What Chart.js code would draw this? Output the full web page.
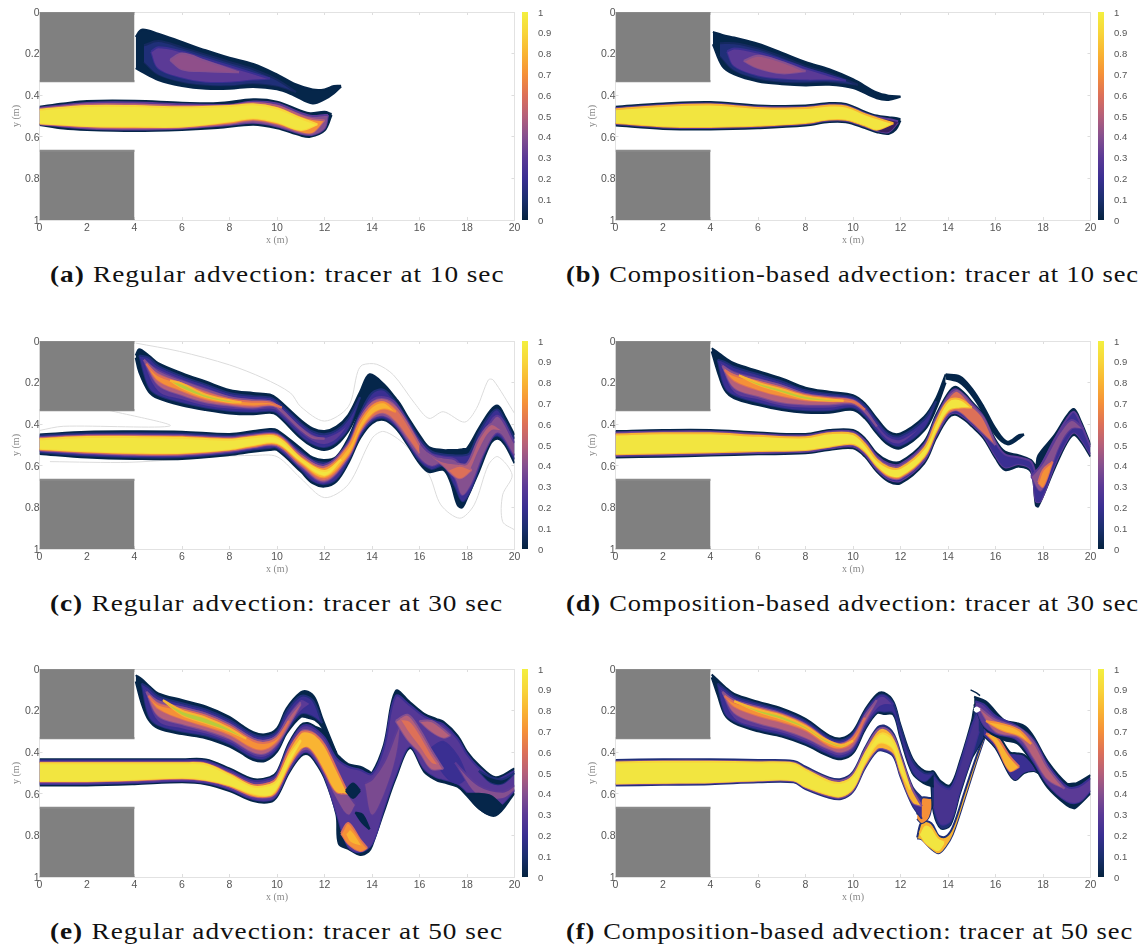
<!DOCTYPE html>
<html>
<head>
<meta charset="utf-8">
<title>Tracer advection</title>
<script src="https://cdn.jsdelivr.net/npm/chart.js@4/dist/chart.umd.min.js"></script>
<style>
  html, body { margin: 0; padding: 0; background: #fff; }
  #page { position: relative; width: 1146px; height: 949px; overflow: hidden; }
  canvas { position: absolute; filter: blur(0.5px); }
  .cap { position: absolute; font-family: "Liberation Serif", serif; font-size: 23px; color: #111; white-space: nowrap; letter-spacing: 0.8px; transform-origin: left top; }
  .cap b { margin-right: 7px; }
</style>
</head>
<body>
<div id="page"></div>
<script>
// axis ticks
const xTicks = [0, 2, 4, 6, 8, 10, 12, 14, 16, 18, 20];
const yTicks = [0, 0.2, 0.4, 0.6, 0.8, 1];
const barTicks = [0, 0.1, 0.2, 0.3, 0.4, 0.5, 0.6, 0.7, 0.8, 0.9, 1];
const barColors = ['#04233f', '#1b2f6e', '#3a2f92', '#5b3a96', '#85508f', '#b5607a', '#dd7058', '#f59038', '#f9b432', '#f8d53a', '#f3f03f'];

// grey blocks
const blockX = [0, 4];
const blockUpTop = [0, 0], blockUpBot = [0.333, 0.333];
const blockLowTop = [0.667, 0.667], blockLowBot = [1, 1];

// (a) 10 sec regular
const aUpX = [4.05, 4.3, 5, 6, 7, 8, 9, 10, 10.7, 11.5, 12, 12.4, 12.7];
const aUpTop = [0.12, 0.085, 0.104, 0.144, 0.184, 0.22, 0.25, 0.3, 0.343, 0.372, 0.372, 0.356, 0.355];
const aUpBot = [0.27, 0.287, 0.327, 0.356, 0.369, 0.369, 0.36, 0.372, 0.4, 0.44, 0.42, 0.39, 0.358];
const aUp1X = [4.4, 5, 6, 7, 8, 9, 10, 10.8];
const aUp1Top = [0.16, 0.14, 0.17, 0.205, 0.24, 0.275, 0.325, 0.385];
const aUp1Bot = [0.24, 0.3, 0.335, 0.35, 0.352, 0.342, 0.355, 0.385];
const aUp2X = [4.7, 5, 6, 7, 8, 9, 9.7];
const aUp2Top = [0.19, 0.17, 0.19, 0.225, 0.26, 0.295, 0.32];
const aUp2Bot = [0.19, 0.27, 0.315, 0.335, 0.335, 0.325, 0.32];
const aUp3X = [5.5, 6, 7, 8.4];
const aUp3Top = [0.23, 0.2, 0.235, 0.29];
const aUp3Bot = [0.23, 0.275, 0.285, 0.29];
const aJetX = [0, 1, 2, 4, 6, 7.5, 9, 10, 11, 11.4, 12, 12.3];
const aJetTop = [0.455, 0.44, 0.428, 0.427, 0.436, 0.438, 0.42, 0.431, 0.474, 0.487, 0.48, 0.49];
const aJetBot = [0.543, 0.56, 0.567, 0.572, 0.567, 0.558, 0.542, 0.559, 0.594, 0.6, 0.57, 0.495];
const aJet1X = [0, 2, 4, 6, 8, 9, 10, 11, 11.5, 12, 12.15];
const aJet1Top = [0.46, 0.437, 0.435, 0.444, 0.446, 0.43, 0.44, 0.485, 0.5, 0.495, 0.495];
const aJet1Bot = [0.54, 0.56, 0.565, 0.56, 0.543, 0.533, 0.55, 0.585, 0.59, 0.56, 0.495];
const aJet2X = [0, 2, 4, 6, 8, 9, 10, 11, 11.5, 12];
const aJet2Top = [0.466, 0.445, 0.445, 0.452, 0.449, 0.438, 0.452, 0.498, 0.515, 0.52];
const aJet2Bot = [0.538, 0.553, 0.558, 0.555, 0.536, 0.52, 0.54, 0.577, 0.58, 0.52];
const aJet3X = [0, 2, 4, 6, 8, 9, 10, 11, 11.7];
const aJet3Top = [0.47, 0.452, 0.452, 0.458, 0.452, 0.444, 0.463, 0.511, 0.54];
const aJet3Bot = [0.535, 0.548, 0.551, 0.551, 0.527, 0.511, 0.53, 0.567, 0.54];

// (b) 10 sec composition
const bUpX = [4.1, 4.5, 5, 6, 7, 8, 9, 10, 11, 11.5, 12];
const bUpTop = [0.096, 0.11, 0.123, 0.152, 0.195, 0.24, 0.275, 0.323, 0.387, 0.402, 0.406];
const bUpBot = [0.155, 0.26, 0.3, 0.334, 0.347, 0.353, 0.35, 0.366, 0.415, 0.423, 0.408];
const bUp1X = [4.4, 5, 6, 7, 8, 9, 10.2];
const bUp1Top = [0.15, 0.15, 0.175, 0.215, 0.26, 0.295, 0.35];
const bUp1Bot = [0.21, 0.28, 0.32, 0.335, 0.338, 0.335, 0.35];
const bUp2X = [4.7, 5, 6, 7, 8, 9, 9.7];
const bUp2Top = [0.19, 0.175, 0.195, 0.23, 0.27, 0.305, 0.33];
const bUp2Bot = [0.19, 0.26, 0.305, 0.32, 0.325, 0.325, 0.33];
const bUp3X = [5.4, 6, 7, 8];
const bUp3Top = [0.235, 0.21, 0.24, 0.285];
const bUp3Bot = [0.235, 0.27, 0.295, 0.285];
const bJetX = [0, 2, 4, 6, 8, 9, 9.7, 10.5, 11, 11.5, 11.8, 12];
const bJetTop = [0.455, 0.44, 0.433, 0.449, 0.45, 0.438, 0.442, 0.479, 0.498, 0.506, 0.51, 0.515];
const bJetBot = [0.546, 0.562, 0.565, 0.559, 0.546, 0.529, 0.53, 0.558, 0.578, 0.586, 0.565, 0.522];
const bJet1X = [0, 2, 4, 6, 8, 9, 9.7, 10.5, 11, 11.5, 11.9];
const bJet1Top = [0.462, 0.447, 0.44, 0.456, 0.457, 0.445, 0.449, 0.486, 0.505, 0.514, 0.525];
const bJet1Bot = [0.539, 0.555, 0.558, 0.552, 0.539, 0.522, 0.523, 0.551, 0.571, 0.577, 0.53];
const bJet2X = [0, 2, 4, 6, 8, 9, 9.7, 10.5, 11, 11.7];
const bJet2Top = [0.467, 0.452, 0.445, 0.461, 0.462, 0.45, 0.454, 0.491, 0.51, 0.535];
const bJet2Bot = [0.534, 0.55, 0.553, 0.547, 0.534, 0.517, 0.518, 0.546, 0.566, 0.535];

// (c) 30 sec regular
const cUpX = [4.05, 4.2, 4.6, 5, 6, 7, 8, 9, 9.7, 10, 11, 11.5, 12, 12.5, 13, 13.5, 13.9, 14.5, 15];
const cUpTop = [0.07, 0.04, 0.07, 0.107, 0.155, 0.195, 0.235, 0.25, 0.257, 0.276, 0.38, 0.42, 0.433, 0.412, 0.356, 0.244, 0.16, 0.208, 0.276];
const cUpBot = [0.08, 0.15, 0.243, 0.276, 0.31, 0.332, 0.348, 0.352, 0.345, 0.356, 0.468, 0.508, 0.524, 0.5, 0.433, 0.332, 0.3, 0.27, 0.276];
const cUp1X = [4.2, 4.6, 5, 6, 7, 8, 9, 9.7, 10, 11, 11.5, 12, 12.5, 13, 13.5];
const cUp1Top = [0.07, 0.08, 0.12, 0.17, 0.21, 0.25, 0.265, 0.272, 0.29, 0.395, 0.435, 0.448, 0.43, 0.375, 0.27];
const cUp1Bot = [0.07, 0.22, 0.26, 0.295, 0.32, 0.335, 0.34, 0.335, 0.345, 0.455, 0.495, 0.51, 0.485, 0.42, 0.27];
const cUp2X = [4.3, 5, 6, 7, 8, 9, 9.7, 10, 11, 11.5, 12, 12.5, 13];
const cUp2Top = [0.08, 0.13, 0.18, 0.22, 0.26, 0.275, 0.28, 0.3, 0.405, 0.445, 0.46, 0.44, 0.4];
const cUp2Bot = [0.08, 0.24, 0.28, 0.31, 0.325, 0.33, 0.325, 0.335, 0.44, 0.48, 0.495, 0.47, 0.4];
const cUp3X = [4.4, 5, 6, 7, 8, 9, 9.7, 10, 11, 11.5, 12];
const cUp3Top = [0.09, 0.15, 0.195, 0.235, 0.27, 0.285, 0.29, 0.31, 0.42, 0.46, 0.47];
const cUp3Bot = [0.09, 0.21, 0.26, 0.295, 0.31, 0.32, 0.31, 0.32, 0.425, 0.465, 0.47];
const cUp4X = [4.5, 5, 6, 7, 8, 9, 9.7, 10.2];
const cUp4Top = [0.11, 0.165, 0.205, 0.25, 0.28, 0.292, 0.295, 0.32];
const cUp4Bot = [0.11, 0.19, 0.24, 0.28, 0.3, 0.31, 0.305, 0.32];
const cUp5X = [5.5, 6, 7, 8, 8.5];
const cUp5Top = [0.19, 0.205, 0.258, 0.285, 0.295];
const cUp5Bot = [0.19, 0.225, 0.27, 0.293, 0.295];
const cJetX = [0, 2, 4, 6, 8, 9, 9.7, 10, 11, 11.5, 12, 12.5, 13, 13.5, 14, 14.5, 15, 15.5, 16, 16.4, 17, 17.3, 17.6, 17.8, 18, 18.5, 19, 19.3, 19.6, 20];
const cJetTop = [0.449, 0.436, 0.434, 0.436, 0.447, 0.433, 0.423, 0.428, 0.516, 0.56, 0.572, 0.556, 0.468, 0.34, 0.27, 0.25, 0.276, 0.364, 0.452, 0.51, 0.524, 0.524, 0.524, 0.52, 0.516, 0.42, 0.332, 0.311, 0.364, 0.452];
const cJetBot = [0.543, 0.56, 0.567, 0.567, 0.548, 0.532, 0.524, 0.524, 0.628, 0.684, 0.7, 0.676, 0.588, 0.468, 0.396, 0.38, 0.42, 0.5, 0.588, 0.63, 0.62, 0.676, 0.788, 0.8, 0.756, 0.628, 0.492, 0.47, 0.5, 0.588];
const cJet1X = [0, 2, 4, 6, 8, 9, 9.7, 10, 11, 11.5, 12, 12.5, 13, 13.5, 14, 14.5, 15, 15.5, 16, 16.5, 17, 17.5, 17.8, 18.1, 18.5, 19, 19.3, 19.6, 20];
const cJet1Top = [0.455, 0.445, 0.443, 0.445, 0.455, 0.443, 0.433, 0.44, 0.53, 0.573, 0.585, 0.568, 0.48, 0.35, 0.25, 0.235, 0.295, 0.38, 0.47, 0.53, 0.545, 0.55, 0.55, 0.54, 0.44, 0.35, 0.33, 0.385, 0.47];
const cJet1Bot = [0.535, 0.55, 0.558, 0.558, 0.54, 0.522, 0.514, 0.514, 0.615, 0.672, 0.688, 0.664, 0.575, 0.455, 0.385, 0.37, 0.41, 0.49, 0.575, 0.615, 0.6, 0.7, 0.77, 0.73, 0.61, 0.475, 0.455, 0.485, 0.57];
const cJet2X = [0, 2, 4, 6, 8, 9, 10, 11, 12, 13, 13.5, 14, 14.5, 15, 16, 16.5, 17, 17.5, 17.8, 18.2, 18.7, 19.3, 20];
const cJet2Top = [0.462, 0.452, 0.45, 0.452, 0.462, 0.45, 0.447, 0.54, 0.595, 0.49, 0.36, 0.285, 0.27, 0.3, 0.485, 0.545, 0.56, 0.57, 0.6, 0.58, 0.45, 0.36, 0.49];
const cJet2Bot = [0.528, 0.542, 0.55, 0.55, 0.532, 0.515, 0.507, 0.605, 0.678, 0.565, 0.445, 0.375, 0.36, 0.4, 0.56, 0.6, 0.585, 0.66, 0.74, 0.68, 0.54, 0.44, 0.55];
const cJet3X = [0, 2, 4, 6, 8, 9, 10, 11, 12, 13, 13.5, 14, 14.5, 15, 15.5, 16];
const cJet3Top = [0.466, 0.456, 0.456, 0.458, 0.468, 0.455, 0.452, 0.55, 0.605, 0.5, 0.375, 0.3, 0.285, 0.32, 0.4, 0.5];
const cJet3Bot = [0.524, 0.537, 0.545, 0.545, 0.527, 0.51, 0.5, 0.595, 0.668, 0.555, 0.435, 0.365, 0.345, 0.385, 0.46, 0.54];
const cBlobX = [16.3, 17, 17.6, 18, 18.5, 19, 19.5];
const cBlobTop = [0.54, 0.58, 0.59, 0.59, 0.47, 0.4, 0.43];
const cBlobBot = [0.54, 0.6, 0.66, 0.64, 0.52, 0.43, 0.43];
const cJet4X = [0, 2, 4, 6, 8, 9, 10, 11, 12, 13, 13.5, 14, 14.5, 15];
const cJet4Top = [0.47, 0.46, 0.46, 0.462, 0.472, 0.46, 0.458, 0.56, 0.615, 0.51, 0.39, 0.315, 0.295, 0.34];
const cJet4Bot = [0.52, 0.532, 0.54, 0.54, 0.522, 0.505, 0.495, 0.585, 0.655, 0.545, 0.425, 0.35, 0.325, 0.34];
const cBlob2X = [17.2, 17.7, 18.2];
const cBlob2Top = [0.62, 0.6, 0.62];
const cBlob2Bot = [0.62, 0.66, 0.62];
const cJet5X = [0, 2, 4, 6, 8, 9, 10, 11, 12, 12.7];
const cJet5Top = [0.472, 0.462, 0.462, 0.465, 0.475, 0.463, 0.463, 0.565, 0.625, 0.57];
const cJet5Bot = [0.518, 0.53, 0.537, 0.537, 0.52, 0.5, 0.49, 0.575, 0.645, 0.57];
// faint grey contour around (c)
const cLine1X = [4.05, 5.9, 8, 9.45, 10.57, 11, 12, 13, 13.4, 13.6, 14.2, 14.9, 15.8, 16.4, 17, 17.9, 18.4, 18.9, 19.1, 20];
const cLine1Y = [0.01, 0.05, 0.115, 0.18, 0.25, 0.316, 0.385, 0.316, 0.147, 0.115, 0.112, 0.163, 0.3, 0.372, 0.34, 0.39, 0.324, 0.187, 0.187, 0.348];
const cLine2X = [0.44, 3.8, 7.5, 9, 10, 11, 12, 13, 14, 14.5, 15.4, 16.4, 16.9, 17.7, 18.3, 18.9, 19.3, 19.9, 19.5, 19.5, 20];
const cLine2Y = [0.58, 0.583, 0.556, 0.55, 0.556, 0.66, 0.753, 0.69, 0.468, 0.435, 0.5, 0.644, 0.788, 0.852, 0.788, 0.596, 0.556, 0.644, 0.74, 0.868, 0.908];
const cLine3X = [0, 1, 5.5, 2.8];
const cLine3Y = [0.43, 0.41, 0.408, 0.33];

// (d) 30 sec composition
const dUpX = [4.05, 4.3, 4.6, 5, 6, 7, 8, 9, 10, 10.5, 11, 11.5, 12, 13, 13.5, 13.9];
const dUpTop = [0.035, 0.054, 0.08, 0.107, 0.144, 0.18, 0.224, 0.244, 0.26, 0.3, 0.372, 0.436, 0.444, 0.364, 0.276, 0.16];
const dUpBot = [0.05, 0.147, 0.236, 0.276, 0.308, 0.332, 0.345, 0.345, 0.332, 0.372, 0.444, 0.5, 0.516, 0.43, 0.324, 0.2];
const dUp1X = [4.3, 4.6, 5, 6, 7, 8, 9, 10, 10.5, 11, 11.5, 12, 13, 13.5];
const dUp1Top = [0.09, 0.1, 0.125, 0.16, 0.195, 0.237, 0.255, 0.27, 0.31, 0.385, 0.447, 0.456, 0.377, 0.29];
const dUp1Bot = [0.09, 0.22, 0.26, 0.295, 0.32, 0.333, 0.333, 0.32, 0.36, 0.432, 0.488, 0.503, 0.417, 0.29];
const dUp2X = [4.4, 5, 6, 7, 8, 9, 10, 10.5, 11, 11.5, 12, 13];
const dUp2Top = [0.1, 0.14, 0.172, 0.205, 0.245, 0.263, 0.278, 0.32, 0.395, 0.458, 0.47, 0.4];
const dUp2Bot = [0.1, 0.245, 0.28, 0.31, 0.32, 0.32, 0.31, 0.35, 0.42, 0.478, 0.49, 0.4];
const dUp3X = [4.5, 5, 6, 7, 8, 9, 10, 10.5, 11];
const dUp3Top = [0.12, 0.155, 0.185, 0.215, 0.255, 0.27, 0.285, 0.33, 0.41];
const dUp3Bot = [0.12, 0.225, 0.265, 0.295, 0.305, 0.305, 0.3, 0.34, 0.41];
const dUp4X = [4.6, 5, 6, 7, 8, 9, 10, 10.5];
const dUp4Top = [0.14, 0.165, 0.195, 0.225, 0.26, 0.275, 0.288, 0.33];
const dUp4Bot = [0.14, 0.19, 0.235, 0.265, 0.285, 0.29, 0.295, 0.33];
const dUp5X = [5.2, 6, 7, 8, 9, 9.6];
const dUp5Top = [0.165, 0.2, 0.232, 0.265, 0.28, 0.287];
const dUp5Bot = [0.165, 0.21, 0.245, 0.278, 0.287, 0.287];
const dFilX = [13.9, 14.5, 15, 15.5, 16, 16.5, 17, 17.2];
const dFilTop = [0.16, 0.17, 0.228, 0.316, 0.42, 0.484, 0.452, 0.449];
const dFilBot = [0.18, 0.2, 0.26, 0.348, 0.452, 0.497, 0.468, 0.449];
const dJetX = [0, 2, 4, 6, 8, 9, 10, 10.5, 11, 11.5, 12, 13, 13.5, 14, 14.3, 14.7, 15, 15.5, 16, 16.4, 17, 17.5, 17.7, 17.8, 18.5, 19, 19.3, 19.6, 20];
const dJetTop = [0.433, 0.428, 0.428, 0.44, 0.447, 0.428, 0.428, 0.468, 0.54, 0.577, 0.58, 0.484, 0.356, 0.252, 0.22, 0.252, 0.292, 0.356, 0.476, 0.532, 0.55, 0.572, 0.6, 0.55, 0.45, 0.36, 0.327, 0.388, 0.5];
const dJetBot = [0.56, 0.556, 0.551, 0.545, 0.54, 0.524, 0.516, 0.556, 0.628, 0.676, 0.684, 0.588, 0.468, 0.372, 0.355, 0.38, 0.41, 0.468, 0.564, 0.62, 0.604, 0.63, 0.79, 0.795, 0.61, 0.49, 0.452, 0.484, 0.556];
const dJet1X = [0, 2, 4, 6, 8, 9, 10, 10.5, 11, 11.5, 12, 13, 13.5, 14, 14.3, 14.7, 15, 15.5, 16, 16.4, 17, 17.5, 17.7, 17.9, 18.5, 19, 19.3, 19.6, 20];
const dJet1Top = [0.44, 0.435, 0.435, 0.447, 0.454, 0.435, 0.436, 0.478, 0.552, 0.59, 0.592, 0.496, 0.368, 0.264, 0.232, 0.262, 0.3, 0.365, 0.486, 0.545, 0.56, 0.58, 0.63, 0.6, 0.47, 0.375, 0.34, 0.4, 0.51];
const dJet1Bot = [0.553, 0.549, 0.544, 0.538, 0.533, 0.517, 0.507, 0.546, 0.618, 0.665, 0.672, 0.576, 0.456, 0.36, 0.345, 0.37, 0.4, 0.457, 0.552, 0.607, 0.592, 0.62, 0.77, 0.77, 0.595, 0.48, 0.44, 0.472, 0.545];
const dJet2X = [0, 2, 4, 6, 8, 9, 10, 10.5, 11, 11.5, 12, 13, 13.5, 14, 14.4, 15, 15.5, 16];
const dJet2Top = [0.446, 0.441, 0.441, 0.453, 0.46, 0.441, 0.443, 0.488, 0.562, 0.6, 0.602, 0.505, 0.378, 0.275, 0.24, 0.31, 0.372, 0.5];
const dJet2Bot = [0.547, 0.543, 0.538, 0.532, 0.527, 0.511, 0.5, 0.537, 0.608, 0.655, 0.66, 0.565, 0.445, 0.35, 0.335, 0.39, 0.445, 0.5];
const dJet3X = [0, 2, 4, 6, 8, 9, 10, 10.5, 11, 11.5, 12, 13, 13.5, 14, 14.5, 15];
const dJet3Top = [0.449, 0.444, 0.444, 0.456, 0.463, 0.444, 0.447, 0.495, 0.57, 0.608, 0.61, 0.515, 0.39, 0.29, 0.28, 0.32];
const dJet3Bot = [0.544, 0.54, 0.535, 0.529, 0.524, 0.508, 0.495, 0.53, 0.6, 0.645, 0.65, 0.555, 0.435, 0.335, 0.32, 0.32];
const dBlobX = [17.5, 17.9, 18.3, 18.7, 19.2, 19.7];
const dBlobTop = [0.65, 0.6, 0.52, 0.44, 0.38, 0.42];
const dBlobBot = [0.65, 0.72, 0.62, 0.5, 0.42, 0.42];
const dBlob2X = [17.8, 18, 18.4];
const dBlob2Top = [0.68, 0.62, 0.58];
const dBlob2Bot = [0.68, 0.7, 0.58];

// (e) 50 sec regular
const eUpX = [4.05, 4.3, 4.6, 5, 6, 7, 8, 8.5, 9, 9.5, 10, 10.4, 11, 11.3, 11.6, 11.9, 12.5];
const eUpTop = [0.03, 0.048, 0.08, 0.117, 0.149, 0.18, 0.23, 0.27, 0.304, 0.314, 0.285, 0.19, 0.112, 0.109, 0.14, 0.235, 0.405];
const eUpBot = [0.06, 0.165, 0.245, 0.285, 0.313, 0.333, 0.373, 0.405, 0.4375, 0.442, 0.397, 0.31, 0.23, 0.235, 0.245, 0.28, 0.405];
const eUp1X = [4.3, 4.6, 5, 6, 7, 8, 9, 9.5, 10, 10.4, 11, 11.5, 11.9];
const eUp1Top = [0.07, 0.09, 0.13, 0.165, 0.195, 0.245, 0.315, 0.325, 0.3, 0.205, 0.13, 0.15, 0.26];
const eUp1Bot = [0.07, 0.225, 0.27, 0.3, 0.32, 0.36, 0.425, 0.43, 0.385, 0.3, 0.215, 0.225, 0.26];
const eUp2X = [4.4, 5, 6, 7, 8, 9, 9.5, 10, 10.4, 11, 11.4];
const eUp2Top = [0.09, 0.145, 0.175, 0.205, 0.255, 0.325, 0.335, 0.31, 0.225, 0.145, 0.165];
const eUp2Bot = [0.09, 0.25, 0.285, 0.31, 0.35, 0.415, 0.42, 0.375, 0.285, 0.2, 0.165];
const eUp3X = [4.5, 5, 6, 7, 8, 9, 9.5, 10, 10.5, 11];
const eUp3Top = [0.11, 0.155, 0.185, 0.215, 0.265, 0.335, 0.345, 0.32, 0.23, 0.16];
const eUp3Bot = [0.11, 0.225, 0.265, 0.295, 0.335, 0.4, 0.405, 0.36, 0.27, 0.17];
const eUp4X = [4.6, 5, 6, 7, 8, 9, 9.5, 10, 10.5];
const eUp4Top = [0.13, 0.17, 0.195, 0.225, 0.275, 0.345, 0.355, 0.33, 0.25];
const eUp4Bot = [0.13, 0.19, 0.24, 0.275, 0.315, 0.38, 0.385, 0.345, 0.25];
const eUp5X = [5.2, 6, 7, 8, 8.7];
const eUp5Top = [0.15, 0.2, 0.235, 0.285, 0.335];
const eUp5Bot = [0.15, 0.22, 0.26, 0.3, 0.335];
const eJetX = [0, 2, 4, 6, 7, 8, 9, 9.7, 10, 10.5, 11, 11.3, 11.6, 12, 12.5, 12.6, 13, 13.5, 13.85, 14, 14.5, 15, 15.6, 16.2, 16.7, 17, 17.6, 18, 18.5, 19.2, 20];
const eJetTop = [0.434, 0.434, 0.434, 0.434, 0.435, 0.478, 0.529, 0.52, 0.494, 0.357, 0.27, 0.26, 0.277, 0.3, 0.405, 0.42, 0.457, 0.47, 0.49, 0.5, 0.365, 0.106, 0.16, 0.215, 0.24, 0.253, 0.32, 0.397, 0.462, 0.52, 0.478];
const eJetBot = [0.56, 0.56, 0.554, 0.545, 0.554, 0.587, 0.635, 0.64, 0.614, 0.5, 0.42, 0.41, 0.445, 0.525, 0.7, 0.84, 0.865, 0.894, 0.878, 0.85, 0.686, 0.525, 0.38, 0.494, 0.534, 0.545, 0.566, 0.61, 0.67, 0.705, 0.598];
const eJet1X = [0, 2, 4, 6, 7, 8, 9, 9.7, 10, 10.5, 11, 11.3, 11.6, 12, 12.5, 13, 13.5, 14, 14.5, 15, 15.6, 16.2, 16.7, 17, 17.6, 18, 18.5, 19.2, 20];
const eJet1Top = [0.44, 0.44, 0.44, 0.44, 0.442, 0.487, 0.537, 0.528, 0.503, 0.367, 0.28, 0.27, 0.287, 0.33, 0.43, 0.47, 0.485, 0.505, 0.38, 0.13, 0.175, 0.228, 0.253, 0.266, 0.335, 0.41, 0.475, 0.53, 0.49];
const eJet1Bot = [0.553, 0.553, 0.547, 0.538, 0.547, 0.578, 0.626, 0.63, 0.604, 0.49, 0.41, 0.4, 0.435, 0.515, 0.69, 0.855, 0.88, 0.84, 0.67, 0.51, 0.37, 0.48, 0.52, 0.53, 0.55, 0.59, 0.64, 0.67, 0.585];
const eJet2X = [0, 2, 4, 6, 7, 8, 9, 9.7, 10, 10.5, 11, 11.3, 11.6, 12, 12.5, 13, 13.3];
const eJet2Top = [0.447, 0.447, 0.447, 0.447, 0.45, 0.495, 0.547, 0.538, 0.513, 0.377, 0.29, 0.285, 0.3, 0.345, 0.47, 0.6, 0.65];
const eJet2Bot = [0.546, 0.546, 0.54, 0.531, 0.54, 0.57, 0.618, 0.62, 0.595, 0.48, 0.4, 0.39, 0.425, 0.505, 0.62, 0.7, 0.65];
const eJet3X = [0, 2, 4, 6, 7, 8, 9, 9.7, 10, 10.5, 11, 11.3, 11.6, 12, 12.5, 13];
const eJet3Top = [0.451, 0.451, 0.451, 0.451, 0.455, 0.503, 0.557, 0.548, 0.523, 0.39, 0.305, 0.3, 0.315, 0.365, 0.48, 0.6];
const eJet3Bot = [0.541, 0.541, 0.535, 0.526, 0.535, 0.564, 0.61, 0.612, 0.585, 0.47, 0.385, 0.375, 0.41, 0.49, 0.59, 0.6];
const eJet4X = [0, 2, 4, 6, 7, 8, 9, 9.7, 10, 10.5, 11];
const eJet4Top = [0.453, 0.453, 0.453, 0.453, 0.458, 0.508, 0.565, 0.558, 0.535, 0.42, 0.34];
const eJet4Bot = [0.538, 0.538, 0.532, 0.523, 0.532, 0.558, 0.6, 0.605, 0.57, 0.45, 0.345];
const eMidX = [13.7, 14, 14.5, 15, 15.2];
const eMidTop = [0.55, 0.53, 0.45, 0.31, 0.25];
const eMidBot = [0.55, 0.7, 0.6, 0.42, 0.25];
const eDark1X = [12.9, 13.2, 13.5];
const eDark1Top = [0.585, 0.55, 0.585];
const eDark1Bot = [0.585, 0.62, 0.585];
const eDark2X = [13.3, 13.6, 13.9];
const eDark2Top = [0.69, 0.7, 0.77];
const eDark2Bot = [0.69, 0.74, 0.77];
const eLumpX = [12.7, 13, 13.5, 13.8];
const eLumpTop = [0.79, 0.74, 0.82, 0.86];
const eLumpBot = [0.79, 0.84, 0.875, 0.86];
const eLump2X = [12.9, 13.1, 13.6];
const eLump2Top = [0.79, 0.77, 0.85];
const eLump2Bot = [0.79, 0.83, 0.85];
const eFan1X = [15, 15.5, 16, 16.5, 17];
const eFan1Top = [0.25, 0.22, 0.29, 0.39, 0.48];
const eFan1Bot = [0.25, 0.34, 0.4, 0.48, 0.48];
const eFan2X = [15.2, 15.6, 16, 16.5, 16.8];
const eFan2Top = [0.24, 0.25, 0.31, 0.41, 0.46];
const eFan2Bot = [0.24, 0.31, 0.37, 0.45, 0.46];
const eFan3X = [16, 16.5, 17, 17.3];
const eFan3Top = [0.25, 0.25, 0.29, 0.32];
const eFan3Bot = [0.25, 0.3, 0.33, 0.32];
const eFan4X = [16.5, 17, 17.6, 18];
const eFan4Top = [0.38, 0.35, 0.42, 0.52];
const eFan4Bot = [0.38, 0.5, 0.55, 0.52];
const eTail1X = [18, 18.5, 19, 19.5];
const eTail1Top = [0.6, 0.6, 0.61, 0.66];
const eTail1Bot = [0.6, 0.67, 0.7, 0.66];
const eTail2X = [18.5, 19, 19.5, 20];
const eTail2Top = [0.49, 0.52, 0.53, 0.5];
const eTail2Bot = [0.49, 0.545, 0.55, 0.5];
const eTail3X = [17.5, 18.5, 19.5, 20];
const eTail3Top = [0.45, 0.56, 0.59, 0.56];
const eTail3Bot = [0.45, 0.61, 0.62, 0.58];

// (f) 50 sec composition
const fUpX = [4.05, 4.3, 4.6, 5, 6, 7, 8, 9, 9.5, 10, 10.5, 11, 11.3, 11.7, 12, 12.5, 13, 13.4];
const fUpTop = [0.026, 0.053, 0.085, 0.12, 0.157, 0.19, 0.24, 0.32, 0.333, 0.3, 0.197, 0.122, 0.114, 0.157, 0.27, 0.43, 0.49, 0.494];
const fUpBot = [0.04, 0.125, 0.22, 0.26, 0.3, 0.325, 0.365, 0.42, 0.434, 0.405, 0.293, 0.213, 0.216, 0.22, 0.333, 0.5, 0.55, 0.566];
const fUp1X = [4.3, 4.6, 5, 6, 7, 8, 9, 9.5, 10, 10.5, 11, 11.3, 11.7, 12, 12.5, 13, 13.4];
const fUp1Top = [0.07, 0.095, 0.13, 0.167, 0.2, 0.25, 0.33, 0.343, 0.31, 0.207, 0.135, 0.125, 0.167, 0.28, 0.44, 0.5, 0.5];
const fUp1Bot = [0.07, 0.21, 0.25, 0.29, 0.315, 0.355, 0.41, 0.424, 0.395, 0.283, 0.205, 0.205, 0.21, 0.32, 0.49, 0.54, 0.5];
const fUp2X = [4.4, 5, 6, 7, 8, 9, 9.5, 10, 10.5, 11, 11.3, 11.7];
const fUp2Top = [0.09, 0.14, 0.175, 0.208, 0.258, 0.338, 0.35, 0.318, 0.215, 0.14, 0.13, 0.17];
const fUp2Bot = [0.09, 0.235, 0.28, 0.305, 0.345, 0.4, 0.415, 0.385, 0.272, 0.19, 0.17, 0.17];
const fUp3X = [4.5, 5, 6, 7, 8, 9, 9.5, 10, 10.5, 11];
const fUp3Top = [0.11, 0.15, 0.183, 0.215, 0.265, 0.345, 0.358, 0.325, 0.225, 0.15];
const fUp3Bot = [0.11, 0.21, 0.26, 0.29, 0.33, 0.385, 0.4, 0.37, 0.255, 0.15];
const fUp4X = [4.6, 5, 6, 7, 8, 9, 9.5, 10, 10.5];
const fUp4Top = [0.13, 0.16, 0.19, 0.22, 0.27, 0.35, 0.363, 0.33, 0.235];
const fUp4Bot = [0.13, 0.18, 0.225, 0.255, 0.295, 0.37, 0.38, 0.35, 0.235];
const fUp5X = [5, 6, 7, 8, 8.8, 9.5, 10];
const fUp5Top = [0.155, 0.195, 0.225, 0.275, 0.335, 0.365, 0.345];
const fUp5Bot = [0.155, 0.205, 0.24, 0.285, 0.345, 0.372, 0.345];
const fJetX = [0, 2, 4, 6, 7.5, 8, 9, 9.5, 10, 10.5, 11, 11.3, 11.7, 12, 12.5, 12.9];
const fJetTop = [0.4375, 0.434, 0.434, 0.4375, 0.442, 0.47, 0.522, 0.529, 0.494, 0.38, 0.285, 0.272, 0.31, 0.405, 0.566, 0.62];
const fJetBot = [0.56, 0.557, 0.554, 0.545, 0.545, 0.577, 0.619, 0.625, 0.59, 0.478, 0.397, 0.394, 0.42, 0.518, 0.654, 0.72];
const fJet1Top = [0.445, 0.442, 0.442, 0.445, 0.45, 0.478, 0.53, 0.537, 0.503, 0.39, 0.297, 0.284, 0.322, 0.417, 0.578, 0.66];
const fJet1Bot = [0.553, 0.55, 0.547, 0.538, 0.538, 0.57, 0.611, 0.617, 0.582, 0.468, 0.387, 0.382, 0.408, 0.506, 0.64, 0.66];
const fJet2X = [0, 2, 4, 6, 7.5, 8, 9, 9.5, 10, 10.5, 11, 11.3, 11.7, 12, 12.4];
const fJet2Top = [0.449, 0.446, 0.446, 0.449, 0.454, 0.484, 0.54, 0.547, 0.515, 0.41, 0.325, 0.31, 0.345, 0.435, 0.58];
const fJet2Bot = [0.55, 0.547, 0.544, 0.535, 0.535, 0.565, 0.603, 0.61, 0.572, 0.45, 0.362, 0.355, 0.385, 0.485, 0.58];
const fHookX = [12.7, 12.9, 13.2, 13.35];
const fHookTop = [0.7, 0.62, 0.62, 0.62];
const fHookBot = [0.72, 0.74, 0.71, 0.62];
const fLumpX = [12.7, 12.9, 13.3, 13.6, 13.9, 14.2, 14.7, 15.2, 15.6];
const fLumpTop = [0.81, 0.734, 0.742, 0.8, 0.806, 0.76, 0.59, 0.42, 0.3];
const fLumpBot = [0.814, 0.82, 0.865, 0.886, 0.854, 0.795, 0.625, 0.445, 0.31];
const fLump1X = [12.8, 13, 13.3, 13.6, 13.85];
const fLump1Top = [0.79, 0.75, 0.76, 0.81, 0.825];
const fLump1Bot = [0.795, 0.83, 0.86, 0.875, 0.84];
const fMidX = [13.3, 13.4, 13.7, 14.1, 14.5, 15, 15.2, 15.6];
const fMidTop = [0.49, 0.494, 0.54, 0.558, 0.445, 0.253, 0.16, 0.157];
const fMidBot = [0.56, 0.69, 0.766, 0.75, 0.6, 0.43, 0.39, 0.31];
const fMid1X = [13.4, 13.7, 14.1, 14.5, 15, 15.3];
const fMid1Top = [0.52, 0.56, 0.575, 0.46, 0.275, 0.2];
const fMid1Bot = [0.66, 0.745, 0.73, 0.585, 0.415, 0.3];
const fFanX = [15.1, 15.6, 16.35, 16.9, 17.25, 17.6, 18.2, 19, 19.3, 19.4, 20];
const fFanTop = [0.133, 0.157, 0.245, 0.26, 0.277, 0.325, 0.445, 0.55, 0.55, 0.55, 0.51];
const fFanBot = [0.17, 0.29, 0.34, 0.357, 0.4, 0.46, 0.57, 0.655, 0.67, 0.665, 0.598];
const fFan1X = [15.15, 15.5, 16, 16.9, 17.6, 18.2, 19, 19.5, 20];
const fFan1Top = [0.155, 0.17, 0.225, 0.275, 0.34, 0.46, 0.565, 0.565, 0.525];
const fFan1Bot = [0.175, 0.27, 0.31, 0.34, 0.445, 0.555, 0.635, 0.64, 0.585];
const fFan2X = [15.3, 16, 17, 17.6, 18.2, 18.9];
const fFan2Top = [0.185, 0.245, 0.285, 0.35, 0.475, 0.575];
const fFan2Bot = [0.185, 0.3, 0.33, 0.425, 0.53, 0.575];
const fFan3X = [15.6, 16.3, 17, 17.5];
const fFan3Top = [0.25, 0.265, 0.295, 0.36];
const fFan3Bot = [0.25, 0.295, 0.32, 0.36];
const fLobeX = [15.5, 16, 16.6, 16.85, 17.2, 17.6, 17.8];
const fLobeTop = [0.28, 0.3, 0.4, 0.405, 0.413, 0.46, 0.5];
const fLobeBot = [0.32, 0.38, 0.51, 0.534, 0.5, 0.49, 0.5];
const fLobe1X = [15.6, 16, 16.6, 17];
const fLobe1Top = [0.31, 0.32, 0.42, 0.47];
const fLobe1Bot = [0.31, 0.36, 0.49, 0.47];
const fHairX = [14.95, 15.2, 15.35];
const fHairY = [0.1, 0.115, 0.128];
const fHoleX = [15.1, 15.2, 15.35];
const fHoleTop = [0.195, 0.185, 0.195];
const fHoleBot = [0.195, 0.205, 0.195];

// contour colours
const navy = '#05264a', blue = '#1f2f78', indigo = '#3a2f92', purple = '#5b3a96', plum = '#85508f',
      pink = '#b5607a', coral = '#dd7058', orange = '#f59038', amber = '#f9b432', gold = '#f8d53a',
      yellow = '#f2e540', lime = '#b8cc3c';

const panels = [
  { letter: 'a', col: 0, row: 0, name: 'Regular advection: tracer at 10 sec', bands: [
    [aUpX, aUpTop, aUpBot, navy, navy], [aUp1X, aUp1Top, aUp1Bot, blue, '#14295f'],
    [aUp2X, aUp2Top, aUp2Bot, purple, indigo], [aUp3X, aUp3Top, aUp3Bot, '#8f4f8a', plum],
    [aJetX, aJetTop, aJetBot, navy, navy], [aJet1X, aJet1Top, aJet1Bot, plum, purple],
    [aJet2X, aJet2Top, aJet2Bot, orange, pink], [aJet3X, aJet3Top, aJet3Bot, yellow, gold] ] },
  { letter: 'b', col: 1, row: 0, name: 'Composition-based advection: tracer at 10 sec', bands: [
    [bUpX, bUpTop, bUpBot, navy, navy], [bUp1X, bUp1Top, bUp1Bot, blue, '#14295f'],
    [bUp2X, bUp2Top, bUp2Bot, purple, indigo], [bUp3X, bUp3Top, bUp3Bot, '#a0557f', plum],
    [bJetX, bJetTop, bJetBot, navy, navy], [bJet1X, bJet1Top, bJet1Bot, '#3a1f5c', purple],
    [bJet2X, bJet2Top, bJet2Bot, yellow, amber] ] },
  { letter: 'c', col: 0, row: 1, name: 'Regular advection: tracer at 30 sec', lines: [
      [cLine1X, cLine1Y], [cLine2X, cLine2Y], [cLine3X, cLine3Y] ], bands: [
    [cUpX, cUpTop, cUpBot, navy, navy], [cUp1X, cUp1Top, cUp1Bot, indigo, blue],
    [cUp2X, cUp2Top, cUp2Bot, purple, indigo], [cUp3X, cUp3Top, cUp3Bot, pink, plum],
    [cUp4X, cUp4Top, cUp4Bot, orange, coral], [cUp5X, cUp5Top, cUp5Bot, lime, amber],
    [cJetX, cJetTop, cJetBot, navy, navy], [cJet1X, cJet1Top, cJet1Bot, indigo, blue],
    [cJet2X, cJet2Top, cJet2Bot, plum, purple], [cJet3X, cJet3Top, cJet3Bot, coral, pink],
    [cBlobX, cBlobTop, cBlobBot, pink, plum], [cBlob2X, cBlob2Top, cBlob2Bot, coral, pink],
    [cJet4X, cJet4Top, cJet4Bot, amber, orange], [cJet5X, cJet5Top, cJet5Bot, yellow, gold] ] },
  { letter: 'd', col: 1, row: 1, name: 'Composition-based advection: tracer at 30 sec', bands: [
    [dUpX, dUpTop, dUpBot, navy, navy], [dFilX, dFilTop, dFilBot, navy, navy],
    [dUp1X, dUp1Top, dUp1Bot, indigo, blue], [dUp2X, dUp2Top, dUp2Bot, purple, indigo],
    [dUp3X, dUp3Top, dUp3Bot, pink, plum], [dUp4X, dUp4Top, dUp4Bot, orange, coral],
    [dUp5X, dUp5Top, dUp5Bot, lime, amber],
    [dJetX, dJetTop, dJetBot, navy, navy], [dJet1X, dJet1Top, dJet1Bot, indigo, purple],
    [dJet2X, dJet2Top, dJet2Bot, coral, plum], [dJet3X, dJet3Top, dJet3Bot, yellow, amber],
    [dBlobX, dBlobTop, dBlobBot, plum, purple], [dBlob2X, dBlob2Top, dBlob2Bot, orange, coral] ] },
  { letter: 'e', col: 0, row: 2, name: 'Regular advection: tracer at 50 sec', bands: [
    [eJetX, eJetTop, eJetBot, navy, navy], [eJet1X, eJet1Top, eJet1Bot, '#553896', indigo],
    [eJet2X, eJet2Top, eJet2Bot, plum, purple], [eJet3X, eJet3Top, eJet3Bot, amber, coral],
    [eJet4X, eJet4Top, eJet4Bot, yellow, gold],
    [eMidX, eMidTop, eMidBot, '#7a4a90', purple], [eDark1X, eDark1Top, eDark1Bot, navy, navy],
    [eDark2X, eDark2Top, eDark2Bot, navy, navy], [eLumpX, eLumpTop, eLumpBot, orange, coral],
    [eLump2X, eLump2Top, eLump2Bot, amber, orange],
    [eFan4X, eFan4Top, eFan4Bot, indigo, indigo], [eFan1X, eFan1Top, eFan1Bot, pink, plum],
    [eFan2X, eFan2Top, eFan2Bot, coral, pink], [eFan3X, eFan3Top, eFan3Bot, pink, plum],
    [eTail3X, eTail3Top, eTail3Bot, plum, purple], [eTail1X, eTail1Top, eTail1Bot, navy, navy],
    [eTail2X, eTail2Top, eTail2Bot, navy, blue],
    [eUpX, eUpTop, eUpBot, navy, navy], [eUp1X, eUp1Top, eUp1Bot, indigo, blue],
    [eUp2X, eUp2Top, eUp2Bot, purple, indigo], [eUp3X, eUp3Top, eUp3Bot, pink, plum],
    [eUp4X, eUp4Top, eUp4Bot, orange, coral], [eUp5X, eUp5Top, eUp5Bot, lime, amber] ] },
  { letter: 'f', col: 1, row: 2, name: 'Composition-based advection: tracer at 50 sec', hair: [fHairX, fHairY], bands: [
    [fLumpX, fLumpTop, fLumpBot, amber, blue], [fLump1X, fLump1Top, fLump1Bot, yellow, amber],
    [fHookX, fHookTop, fHookBot, orange, blue],
    [fJetX, fJetTop, fJetBot, indigo, blue], [fJetX, fJet1Top, fJet1Bot, amber, plum],
    [fJet2X, fJet2Top, fJet2Bot, yellow, gold],
    [fMidX, fMidTop, fMidBot, blue, navy], [fMid1X, fMid1Top, fMid1Bot, '#47338f', indigo],
    [fLobeX, fLobeTop, fLobeBot, indigo, navy], [fLobe1X, fLobe1Top, fLobe1Bot, amber, coral],
    [fFanX, fFanTop, fFanBot, navy, navy], [fFan1X, fFan1Top, fFan1Bot, purple, indigo],
    [fFan2X, fFan2Top, fFan2Bot, pink, plum], [fFan3X, fFan3Top, fFan3Bot, amber, orange],
    [fHoleX, fHoleTop, fHoleBot, '#ffffff', '#ffffff'],
    [fUpX, fUpTop, fUpBot, navy, navy], [fUp1X, fUp1Top, fUp1Bot, indigo, blue],
    [fUp2X, fUp2Top, fUp2Bot, purple, indigo], [fUp3X, fUp3Top, fUp3Bot, pink, plum],
    [fUp4X, fUp4Top, fUp4Bot, orange, coral], [fUp5X, fUp5Top, fUp5Bot, lime, amber] ] }
];

const page = document.getElementById('page');
const colLeft = [0, 575.5];
const rowTop = [0, 329, 657];

function toPoints(x, y) {
  return x.map((v, i) => ({ x: v, y: y[i] }));
}

// top curve fills down to the bottom curve; the first dataset paints last
function bandSets(b, tension) {
  const line = { pointRadius: 0, borderColor: b[4], borderWidth: 2, showLine: true, tension: tension === undefined ? 0.35 : tension };
  return [
    { ...line, data: toPoints(b[0], b[1]), fill: '+1', backgroundColor: b[3] },
    { ...line, data: toPoints(b[0], b[2]), fill: false }
  ];
}

function addCanvas(left, top, w, h) {
  const c = document.createElement('canvas');
  c.width = w; c.height = h;
  c.style.left = left + 'px'; c.style.top = top + 'px';
  c.style.width = w + 'px'; c.style.height = h + 'px';
  page.appendChild(c);
  return c;
}

function drawPanel(p) {
  const canvas = addCanvas(colLeft[p.col], rowTop[p.row], 520, 250);
  let sets = [];
  p.bands.forEach(b => { sets = bandSets(b).concat(sets); });
  (p.lines || []).forEach(l => {
    sets.push({ data: toPoints(l[0], l[1]), showLine: true, pointRadius: 0, borderColor: '#dcdcdc', borderWidth: 1, tension: 0.3, fill: false });
  });
  if (p.hair) sets.unshift({ data: toPoints(p.hair[0], p.hair[1]), showLine: true, pointRadius: 0, borderColor: navy, borderWidth: 1.3, fill: false });
  // grey blocks sit over everything
  sets = bandSets([blockX, blockUpTop, blockUpBot, '#808080', '#8a8a8a'], 0)
    .concat(bandSets([blockX, blockLowTop, blockLowBot, '#808080', '#8a8a8a'], 0), sets);

  const edge = { color: '#e2e2e2', width: 1 };
  const tickGrid = { drawOnChartArea: false, color: '#dddddd', tickLength: -3 };
  new Chart(canvas, {
    type: 'scatter',
    data: { datasets: sets },
    options: {
      responsive: false,
      animation: false,
      events: [],
      layout: { autoPadding: false, padding: { top: 12, left: 0, right: 5.5, bottom: 4 } },
      plugins: { legend: { display: false }, tooltip: { enabled: false } },
      scales: {
        x: {
          min: 0, max: 20, afterBuildTicks: s => { s.ticks = xTicks.map(v => ({ value: v })); },
          // tick label overhang would otherwise shrink the plot area
          afterFit: s => { s.height = 26; s.paddingLeft = 0; s.paddingRight = 0; },
          grid: tickGrid, border: edge,
          ticks: { color: '#555', font: { family: 'Liberation Sans', size: 10.5 }, padding: 5, maxRotation: 0, autoSkip: false, callback: v => String(v) },
          title: { display: true, text: 'x (m)', color: '#888', font: { family: 'Liberation Serif', size: 10 }, padding: 0 }
        },
        y: {
          min: 0, max: 1, reverse: true, afterBuildTicks: s => { s.ticks = yTicks.map(v => ({ value: v })); },
          afterFit: s => { s.width = 39.5; },
          grid: tickGrid, border: edge,
          ticks: { color: '#555', font: { family: 'Liberation Sans', size: 10.5 }, padding: 3, labelOffset: 1, autoSkip: false, callback: v => String(v) },
          title: { display: true, text: 'y (m)', color: '#888', font: { family: 'Liberation Serif', size: 10 }, padding: { top: 10, bottom: 0 } }
        },
        xTop: {
          type: 'linear', position: 'top', min: 0, max: 20,
          afterBuildTicks: s => { s.ticks = xTicks.map(v => ({ value: v })); },
          afterFit: s => { s.height = 0; },
          grid: tickGrid, border: edge, ticks: { display: false }
        },
        yRight: {
          type: 'linear', position: 'right', min: 0, max: 1, reverse: true,
          afterBuildTicks: s => { s.ticks = yTicks.map(v => ({ value: v })); },
          afterFit: s => { s.width = 0; },
          grid: tickGrid, border: edge, ticks: { display: false }
        }
      }
    }
  });
}

function drawColorbar(p) {
  const canvas = addCanvas(colLeft[p.col] + 522, rowTop[p.row], 40, 230);
  new Chart(canvas, {
    type: 'bar',
    data: {
      labels: [''],
      datasets: [{
        data: [[0, 1]], barPercentage: 1, categoryPercentage: 1,
        backgroundColor: ctx => {
          const area = ctx.chart.chartArea;
          if (!area) return barColors[5];
          const g = ctx.chart.ctx.createLinearGradient(0, area.bottom, 0, area.top);
          barColors.forEach((c, i) => g.addColorStop(i / (barColors.length - 1), c));
          return g;
        }
      }]
    },
    options: {
      responsive: false,
      animation: false,
      events: [],
      layout: { autoPadding: false, padding: { top: 12, left: 0, right: 0, bottom: 10 } },
      plugins: { legend: { display: false }, tooltip: { enabled: false } },
      scales: {
        x: { display: false },
        y: {
          position: 'right', min: 0, max: 1,
          afterBuildTicks: s => { s.ticks = barTicks.map(v => ({ value: v })); },
          afterFit: s => { s.width = 34; },
          grid: { display: false }, border: { display: false },
          ticks: { color: '#555', font: { family: 'Liberation Sans', size: 9.5 }, padding: 2, labelOffset: 1, autoSkip: false, callback: v => String(v) }
        }
      }
    }
  });
}

panels.forEach(p => {
  drawPanel(p);
  drawColorbar(p);
  const cap = document.createElement('div');
  cap.className = 'cap';
  cap.style.left = (p.col ? 566 : 50) + 'px';
  cap.style.top = (rowTop[p.row] + 262) + 'px';
  cap.style.transform = 'scaleX(' + (p.col ? 1.15 : 1.187) + ')';
  cap.innerHTML = '<b>(' + p.letter + ')</b>' + p.name;
  page.appendChild(cap);
});
</script>
</body>
</html>
